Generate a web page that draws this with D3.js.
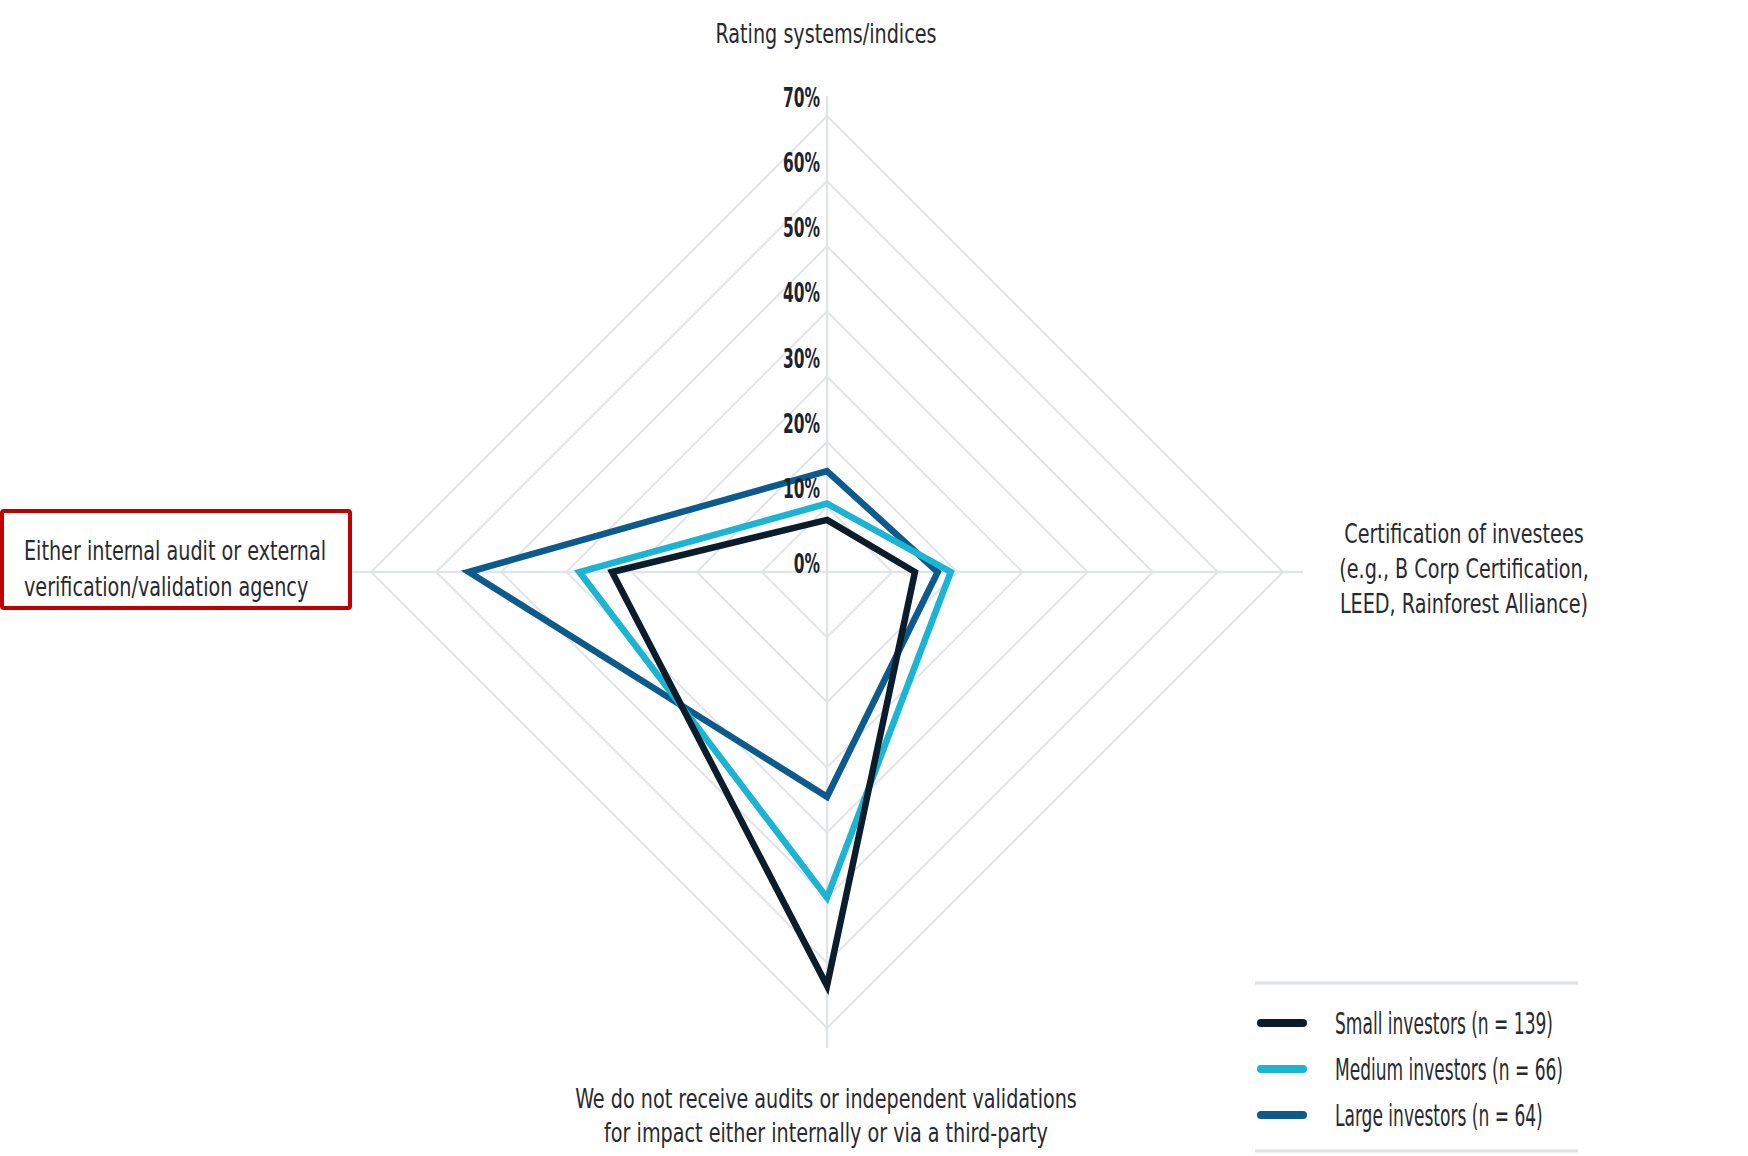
<!DOCTYPE html>
<html>
<head>
<meta charset="utf-8">
<script src="https://cdn.jsdelivr.net/npm/d3@7"></script>
<style>
  html, body { margin: 0; padding: 0; background: #ffffff; }
  svg { display: block; }
  text { font-family: "Liberation Sans Narrow", "DejaVu Sans Condensed", "Roboto", sans-serif; }
</style>
</head>
<body>
<svg id="chart" width="1748" height="1156"></svg>
<script>
// Axes, clockwise from the top
const axisLabels = [
  ["Rating systems/indices"],
  ["Certification of investees", "(e.g., B Corp Certification,", "LEED, Rainforest Alliance)"],
  ["We do not receive audits or independent validations", "for impact either internally or via a third-party"],
  ["Either internal audit or external", "verification/validation agency"]
];

// Share of investors (%) per axis
const smallValues  = [8, 13.5, 63.5, 33];
const mediumValues = [10.5, 19, 50, 38];
const largeValues  = [15.5, 17, 34.5, 55];

const seriesNames  = ["Small investors (n = 139)", "Medium investors (n = 66)", "Large investors (n = 64)"];
const seriesColors = ["#0b1c2b", "#1bb4d2", "#0d5b8c"];

const tickValues = [0, 10, 20, 30, 40, 50, 60, 70];
const tickLabels = ["0%", "10%", "20%", "30%", "40%", "50%", "60%", "70%"];

// ---- layout ----
const svg = d3.select("#chart");
const cx = 827, cy = 572;
const r = d3.scaleLinear().domain([0, 70]).range([0, 456]);
const angle = d3.scalePoint().domain(d3.range(axisLabels.length)).range([0, 2 * Math.PI * (axisLabels.length - 1) / axisLabels.length]);

const gridColor = "#e2e5e7";
const textColor = "#272a31";

const plot = svg.append("g").attr("transform", `translate(${cx},${cy})`);

// squeeze a group of text lines so that a reference line gets the given width
function condense(sel, refText, refWidth) {
  let factor = 1;
  sel.each(function () {
    if (this.textContent === refText) factor = refWidth / this.getComputedTextLength();
  });
  sel.each(function () {
    const w = this.getComputedTextLength();
    d3.select(this).attr("textLength", w * factor).attr("lengthAdjust", "spacingAndGlyphs");
  });
}

// diamond rings
const ring = d3.lineRadial()
  .angle((d, i) => angle(i))
  .radius(d => r(d))
  .curve(d3.curveLinearClosed);

plot.append("g").selectAll("path")
  .data(tickValues.filter(v => v > 0))
  .join("path")
  .attr("d", v => ring(axisLabels.map(() => v)))
  .attr("fill", "none")
  .attr("stroke", gridColor)
  .attr("stroke-width", 2);

// spokes
const spokeExtra = 20;
plot.append("g").selectAll("line")
  .data(axisLabels.map((d, i) => i))
  .join("line")
  .attr("x1", 0).attr("y1", 0)
  .attr("x2", i => Math.sin(angle(i)) * (r(70) + spokeExtra))
  .attr("y2", i => -Math.cos(angle(i)) * (r(70) + spokeExtra))
  .attr("stroke", gridColor)
  .attr("stroke-width", 2.5);

// series outlines (largest group underneath)
const series = [
  { name: seriesNames[2], values: largeValues,  color: seriesColors[2] },
  { name: seriesNames[1], values: mediumValues, color: seriesColors[1] },
  { name: seriesNames[0], values: smallValues,  color: seriesColors[0] }
];

plot.append("g").selectAll("path")
  .data(series)
  .join("path")
  .attr("d", s => ring(s.values))
  .attr("fill", "none")
  .attr("stroke", s => s.color)
  .attr("stroke-width", 6.5)
  .attr("stroke-linejoin", "miter");

// radial tick labels along the upward spoke
const ticks = plot.append("g").selectAll("text")
  .data(tickValues)
  .join("text")
  .attr("x", -7)
  .attr("y", v => -r(v) - (v === 0 ? -1 : 9))
  .attr("text-anchor", "end")
  .attr("font-size", 26)
  .attr("font-weight", "bold")
  .attr("fill", "#1c2330")
  .text((v, i) => tickLabels[i]);
condense(ticks, "70%", 37);

// axis titles
const labelLayout = [
  { x: 826,  y: 43,   anchor: "middle", lh: 35 },
  { x: 1464, y: 543,  anchor: "middle", lh: 35 },
  { x: 826,  y: 1108, anchor: "middle", lh: 34 },
  { x: 24,   y: 560,  anchor: "start",  lh: 36 }
];

// highlight frame around the left-hand axis title
svg.append("rect")
  .attr("x", 2).attr("y", 511)
  .attr("width", 348).attr("height", 97)
  .attr("rx", 2)
  .attr("fill", "none")
  .attr("stroke", "#c00000")
  .attr("stroke-width", 4);

const labelGroups = svg.append("g").selectAll("g")
  .data(axisLabels)
  .join("g");

const labelLines = labelGroups.selectAll("text")
  .data((lines, i) => lines.map((t, j) => ({ t, j, L: labelLayout[i] })))
  .join("text")
  .attr("x", d => d.L.x)
  .attr("y", d => d.L.y + d.j * d.L.lh)
  .attr("text-anchor", d => d.L.anchor)
  .attr("font-size", 26)
  .attr("fill", textColor)
  .text(d => d.t);
condense(labelLines, "Rating systems/indices", 221);

// legend
const legend = svg.append("g");
legend.selectAll("line.rule")
  .data([983, 1151])
  .join("line")
  .attr("class", "rule")
  .attr("x1", 1255).attr("x2", 1578)
  .attr("y1", d => d).attr("y2", d => d)
  .attr("stroke", "#dfe2e4")
  .attr("stroke-width", 3);

const items = legend.selectAll("g.item")
  .data(seriesNames.map((n, i) => ({ n, c: seriesColors[i], i })))
  .join("g")
  .attr("class", "item")
  .attr("transform", d => `translate(1261,${1023 + d.i * 46})`);

items.append("line")
  .attr("x1", 0).attr("x2", 42)
  .attr("y1", 0).attr("y2", 0)
  .attr("stroke", d => d.c)
  .attr("stroke-width", 8)
  .attr("stroke-linecap", "round");

const legendText = items.append("text")
  .attr("x", 74)
  .attr("y", 11)
  .attr("font-size", 30)
  .attr("fill", textColor)
  .text(d => d.n);
condense(legendText, "Small investors (n = 139)", 218);
</script>
</body>
</html>
